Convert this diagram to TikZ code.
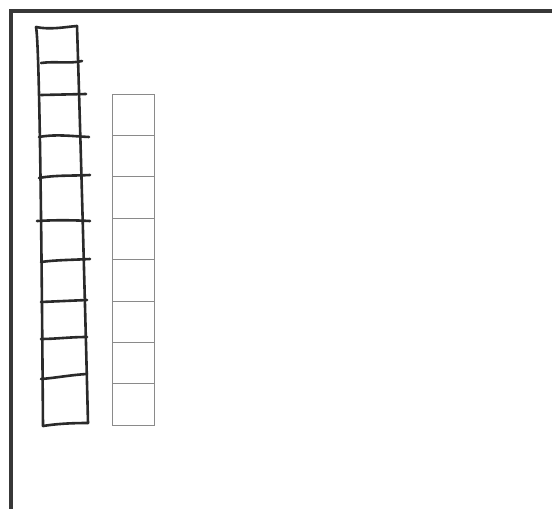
\documentclass[tikz,border=0pt]{standalone}
\definecolor{pen}{HTML}{2A2A2A}
\definecolor{frame}{HTML}{383838}
\definecolor{grid}{HTML}{8A8A8A}
\tikzset{
  penline/.style={draw=pen, line width=2.6pt, line cap=round, line join=round},
  frameline/.style={draw=frame, line width=4pt},
  gridline/.style={draw=grid, line width=0.9pt}
}
\begin{document}
\begin{tikzpicture}[x=1pt,y=-1pt]
\useasboundingbox (0,0) rectangle (552,509);
\fill[white] (0,0) rectangle (552,509);
% frame (right and bottom edges outside the picture)
\draw[frameline] (10.5,515) -- (10.5,10.5) -- (560,10.5);
% hand-drawn ladder
\draw[penline] (36,27) .. controls (40,45) and (42,300) .. (43,426);
\draw[penline] (77,26) .. controls (80,120) and (85,300) .. (88,423);
\draw[penline] (36,27) .. controls (50,30) and (65,27) .. (77,26);
\draw[penline] (41,63) .. controls (55,61) and (70,64) .. (82,61);
\draw[penline] (41,95) -- (86,94);
\draw[penline] (39,137) .. controls (55,134) and (70,136) .. (89,137);
\draw[penline] (39,178) .. controls (55,175) and (70,176) .. (90,175);
\draw[penline] (37,221) .. controls (55,220) and (70,220) .. (90,221);
\draw[penline] (41,262) .. controls (55,260) and (70,260) .. (90,259);
\draw[penline] (41,302) -- (87,300);
\draw[penline] (41,339) .. controls (55,339) and (70,337) .. (87,337);
\draw[penline] (41,379) .. controls (55,378) and (70,375) .. (87,374);
\draw[penline] (43,426) .. controls (55,424) and (70,423) .. (88,423);
% printed grid column
\draw[gridline] (112,94) rectangle (154,425.2);
\foreach \k in {1,...,7} {
  \draw[gridline] (112,94+\k*41.4) -- (154,94+\k*41.4);
}
\end{tikzpicture}
\end{document}
